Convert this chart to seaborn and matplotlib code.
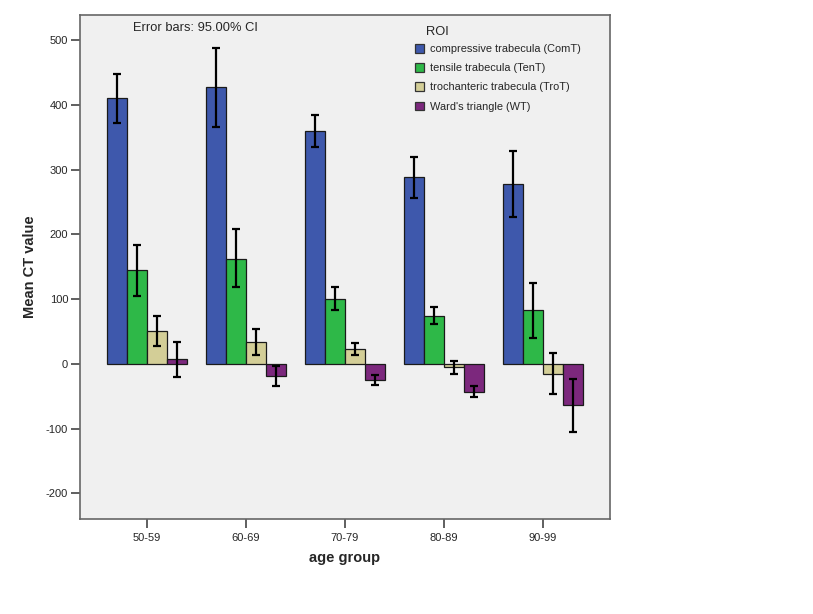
import numpy as np
import pandas as pd
import seaborn as sns
import matplotlib.pyplot as plt
from matplotlib.patches import Patch

# values (means and 95% CI bounds)
age_groups = ['50-59', '60-69', '70-79', '80-89', '90-99']
rois = ['compressive trabecula (ComT)', 'tensile trabecula (TenT)',
        'trochanteric trabecula (TroT)', "Ward's triangle (WT)"]

comt_mean = [410, 427, 360, 289, 277]
comt_lo = [372, 366, 334, 256, 227]
comt_hi = [447, 488, 384, 320, 328]

tent_mean = [145, 162, 100, 74, 83]
tent_lo = [105, 118, 83, 62, 40]
tent_hi = [184, 208, 118, 87, 125]

trot_mean = [51, 34, 23, -5, -15]
trot_lo = [28, 14, 13, -16, -47]
trot_hi = [74, 54, 32, 5, 17]

wt_mean = [7, -19, -25, -43, -64]
wt_lo = [-20, -34, -33, -51, -105]
wt_hi = [34, -4, -18, -34, -23]

colors = ['#3E58AC', '#2EB848', '#D3CE97', '#7C287D']

means = [comt_mean, tent_mean, trot_mean, wt_mean]
lows = [comt_lo, tent_lo, trot_lo, wt_lo]
highs = [comt_hi, tent_hi, trot_hi, wt_hi]

rows = []
for roi, m, lo, hi in zip(rois, means, lows, highs):
    for g, a, b, c in zip(age_groups, m, lo, hi):
        rows.append({'age group': g, 'ROI': roi, 'mean': a, 'lo': b, 'hi': c})
df = pd.DataFrame(rows)

sns.set_style('white')
plt.rcParams['font.family'] = ['Liberation Sans', 'DejaVu Sans']
plt.rcParams['axes.unicode_minus'] = False

fig = plt.figure(figsize=(8.13, 6.14), dpi=100)
ax = fig.add_axes([0.0984, 0.1547, 0.6516, 0.8209])
ax.set_facecolor('#F0F0F0')

sns.barplot(data=df, x='age group', y='mean', hue='ROI', hue_order=rois,
            order=age_groups, palette=colors, saturation=1, width=0.81,
            errorbar=None, edgecolor='#1a1a1a', linewidth=0.9, legend=False, ax=ax)

# error bars from the CI bounds, one container per ROI
for container, roi in zip(ax.containers, rois):
    sub = df[df['ROI'] == roi].set_index('age group').loc[age_groups]
    xs = [b.get_x() + b.get_width() / 2 for b in container]
    yerr = np.array([sub['mean'] - sub['lo'], sub['hi'] - sub['mean']])
    ax.errorbar(xs, sub['mean'], yerr=yerr, fmt='none', ecolor='black',
                elinewidth=1.6, capsize=3, capthick=1.6, zorder=5)

ax.set_xlim(-0.675, 4.675)
ax.set_ylim(-239.6, 538.6)
ax.set_yticks([-200, -100, 0, 100, 200, 300, 400, 500])
ax.tick_params(axis='both', bottom=True, left=True, direction='out',
               length=6.5, width=1.2, color='#444444', labelsize=8, pad=2)
ax.tick_params(axis='x', pad=3.5)

for s in ax.spines.values():
    s.set_visible(True)
    s.set_color('#666666')
    s.set_linewidth(1.2)

ax.set_xlabel('age group', fontsize=10.5, fontweight='bold')
ax.set_ylabel('Mean CT value', fontsize=10.5, fontweight='bold')
ax.xaxis.set_label_coords(0.5, -0.0635)
ax.yaxis.set_label_coords(-0.081, 0.5)

ax.text(0.217, 0.974, 'Error bars: 95.00% CI', transform=ax.transAxes,
        ha='center', va='center', fontsize=9.3)
ax.text(0.674, 0.967, 'ROI', transform=ax.transAxes, ha='center',
        va='center', fontsize=9.3)

handles = [Patch(facecolor=c, edgecolor='#333333', linewidth=0.9) for c in colors]
ax.legend(handles, rois, loc='upper left', bbox_to_anchor=(0.632, 0.942),
          frameon=False, fontsize=7.9, borderpad=0, handlelength=0.8,
          handleheight=0.8, handletextpad=0.55, labelspacing=0.83,
          borderaxespad=0)

fig.savefig('out.png', dpi=100)
